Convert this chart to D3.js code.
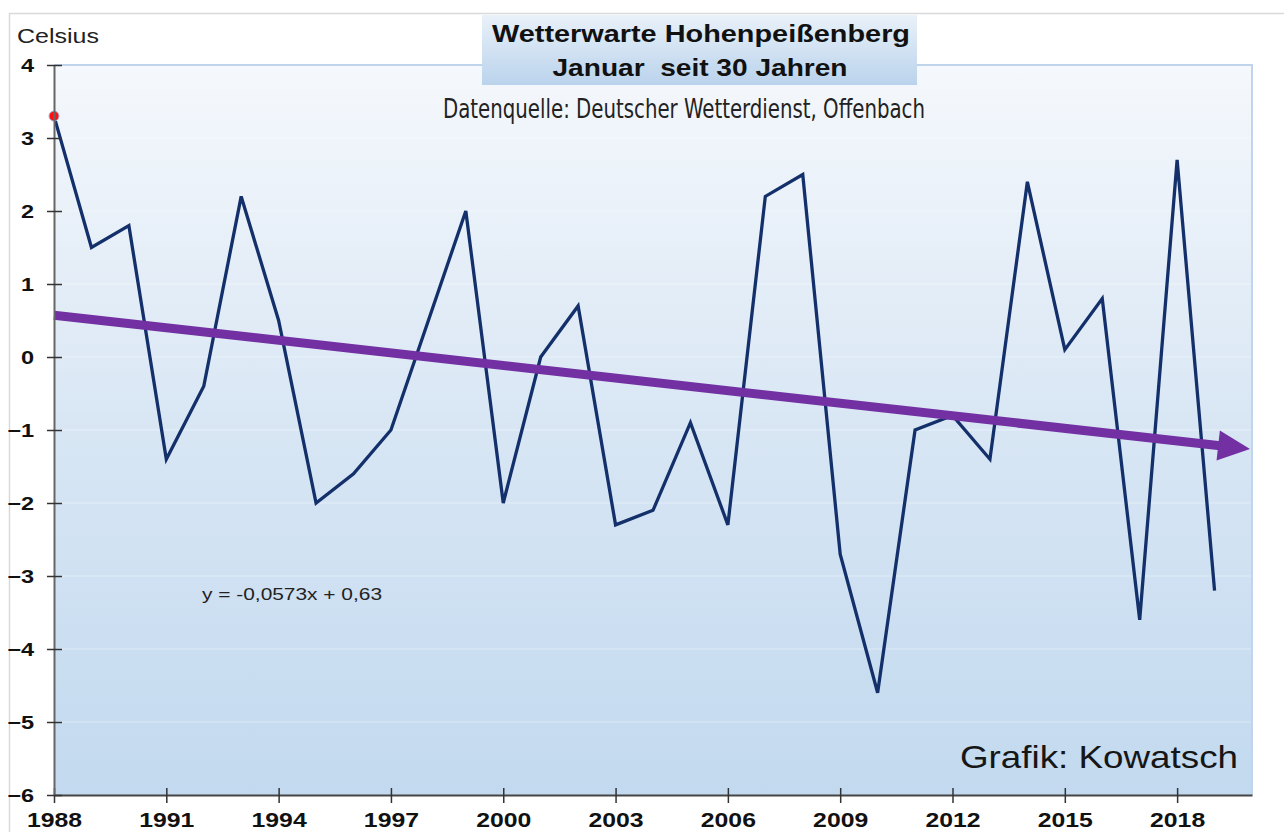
<!DOCTYPE html>
<html>
<head>
<meta charset="utf-8">
<script src="https://cdn.jsdelivr.net/npm/d3@7"></script>
<style>
body { margin: 0; background: #fff; }
svg { display: block; font-family: "Liberation Sans", Arial, sans-serif; }
</style>
</head>
<body>
<svg id="chart" width="1284" height="832"></svg>
<script>
// Daten: Januar-Mittel Hohenpeißenberg 1988-2019
const years = [1988, 1989, 1990, 1991, 1992, 1993, 1994, 1995, 1996, 1997, 1998,
               1999, 2000, 2001, 2002, 2003, 2004, 2005, 2006, 2007, 2008, 2009,
               2010, 2011, 2012, 2013, 2014, 2015, 2016, 2017, 2018, 2019];
const januarTemp = [3.3, 1.5, 1.8, -1.4, -0.4, 2.2, 0.5, -2.0, -1.6, -1.0, 0.5,
                    2.0, -2.0, 0.0, 0.7, -2.3, -2.1, -0.9, -2.3, 2.2, 2.5, -2.7,
                    -4.6, -1.0, -0.8, -1.4, 2.4, 0.1, 0.8, -3.6, 2.7, -3.2];
const yTicks = [-6, -5, -4, -3, -2, -1, 0, 1, 2, 3, 4];
const xTicks = [1988, 1991, 1994, 1997, 2000, 2003, 2006, 2009, 2012, 2015, 2018];

// Trendlinie (Excel): y = -0,0573x + 0,63, x = 1 für 1988
const trendSlope = -0.0573;
const trendIntercept = 0.63;
const trendYears = [1988, 2020];

// Texte
const yLabel = 'Celsius';
const titleLines = ['Wetterwarte Hohenpeißenberg', 'Januar  seit 30 Jahren'];
const sourceText = 'Datenquelle: Deutscher Wetterdienst, Offenbach';
const equationText = 'y = -0,0573x + 0,63';
const creditText = 'Grafik: Kowatsch';

// Bildschirm
const plot = {left: 54, right: 1252, top: 65, bottom: 795};
const stretch = 1.24;   // Schrift im Original ist breit gezogen

const x = d3.scaleLinear([1988, 2020], [plot.left, plot.right]);
const y = d3.scaleLinear([-6, 4], [plot.bottom, plot.top]);

const svg = d3.select('#chart');
const defs = svg.append('defs');

const bg = defs.append('linearGradient').attr('id', 'plotBg')
               .attr('x1', 0).attr('y1', 0).attr('x2', 0).attr('y2', 1);
bg.append('stop').attr('offset', '0%').attr('stop-color', '#f5f8fc');
bg.append('stop').attr('offset', '50%').attr('stop-color', '#d8e6f4');
bg.append('stop').attr('offset', '100%').attr('stop-color', '#c2d9ef');

const tb = defs.append('linearGradient').attr('id', 'titleBg')
               .attr('x1', 0).attr('y1', 0).attr('x2', 0).attr('y2', 1);
tb.append('stop').attr('offset', '0%').attr('stop-color', '#e9f1f9');
tb.append('stop').attr('offset', '100%').attr('stop-color', '#bad3ec');

// äußerer Rahmen
svg.append('rect')
   .attr('x', 9.5).attr('y', 13.5).attr('width', 1400).attr('height', 900)
   .attr('fill', 'none').attr('stroke', '#d9d9d9').attr('stroke-width', 1.5);

// Zeichenfläche
svg.append('rect')
   .attr('x', plot.left).attr('y', plot.top)
   .attr('width', plot.right - plot.left).attr('height', plot.bottom - plot.top)
   .attr('fill', 'url(#plotBg)');

// Gitterlinien
svg.append('g').selectAll('line')
   .data(yTicks.filter(d => d > -6 && d < 4))
   .join('line')
   .attr('x1', plot.left).attr('x2', plot.right)
   .attr('y1', d => y(d)).attr('y2', d => y(d))
   .attr('stroke', 'rgba(255,255,255,0.4)').attr('stroke-width', 1);

// Rand oben und rechts
svg.append('path')
   .attr('d', `M${plot.left},${y(4)}H${plot.right}V${plot.bottom}`)
   .attr('fill', 'none').attr('stroke', '#c0d5ec').attr('stroke-width', 2);

// Temperaturkurve
const line = d3.line().x((d, i) => x(years[i])).y(d => y(d));
svg.append('path')
   .datum(januarTemp)
   .attr('d', line)
   .attr('fill', 'none')
   .attr('stroke', '#13306b')
   .attr('stroke-width', 3.3)
   .attr('stroke-linejoin', 'miter');

// Trendpfeil
const trendAt = yr => trendSlope * (yr - 1987) + trendIntercept;
const p0 = [x(trendYears[0]), y(trendAt(trendYears[0]))];
const p1 = [x(trendYears[1]) - 2, y(trendAt(trendYears[1]))];
const len = Math.hypot(p1[0] - p0[0], p1[1] - p0[1]);
const ux = (p1[0] - p0[0]) / len, uy = (p1[1] - p0[1]) / len;
const headLen = 32, headHalf = 15;
const base = [p1[0] - ux * headLen, p1[1] - uy * headLen];

svg.append('line')
   .attr('x1', p0[0]).attr('y1', p0[1])
   .attr('x2', base[0] + ux * 2).attr('y2', base[1] + uy * 2)
   .attr('stroke', '#7230a2').attr('stroke-width', 9);
svg.append('path')
   .attr('d', `M${p1[0]},${p1[1]}` +
              `L${base[0] - uy * headHalf},${base[1] + ux * headHalf}` +
              `L${base[0] + uy * headHalf},${base[1] - ux * headHalf}Z`)
   .attr('fill', '#7230a2');

// erster Punkt rot markiert
svg.append('circle')
   .attr('cx', x(years[0])).attr('cy', y(januarTemp[0])).attr('r', 5)
   .attr('fill', '#ff1010').attr('stroke', '#9fb8e0').attr('stroke-width', 1);

// x-Achse
const xAxis = d3.axisBottom(x).tickValues(xTicks).tickFormat(d3.format('d'))
                .tickSizeInner(8).tickSizeOuter(0);
const gx = svg.append('g').attr('transform', `translate(0,${plot.bottom})`).call(xAxis);
gx.select('.domain').attr('stroke', '#454545').attr('stroke-width', 2);
gx.selectAll('.tick line').attr('y1', -7).attr('y2', 8)
  .attr('stroke', '#333').attr('stroke-width', 1.5);
gx.selectAll('.tick text')
  .attr('y', 32).attr('dy', null)
  .attr('transform', `scale(${stretch},1)`)
  .style('font-family', '"Liberation Sans", Arial, sans-serif')
  .style('font-size', '20px').style('font-weight', 'bold').attr('fill', '#111');

// y-Achse
const yAxis = d3.axisLeft(y).tickValues(yTicks).tickSizeInner(7).tickSizeOuter(0);
const gy = svg.append('g').attr('transform', `translate(${plot.left},0)`).call(yAxis);
gy.select('.domain').attr('stroke', '#666').attr('stroke-width', 2);
gy.selectAll('.tick line').attr('x1', 8).attr('x2', -7)
  .attr('stroke', '#333').attr('stroke-width', 1.5);
gy.selectAll('.tick text')
  .attr('x', -20 / stretch).attr('dy', '0.36em')
  .attr('transform', `scale(${stretch},1)`)
  .style('font-family', '"Liberation Sans", Arial, sans-serif')
  .style('font-size', '19px').style('font-weight', 'bold').attr('fill', '#111');

// Texte
function addText(txt, px, py, size, width, opts = {}) {
  return svg.append('text')
     .attr('x', px).attr('y', py)
     .attr('text-anchor', opts.anchor || 'start')
     .attr('textLength', width).attr('lengthAdjust', 'spacingAndGlyphs')
     .style('font-size', size + 'px')
     .style('font-weight', opts.bold ? 'bold' : 'normal')
     .style('font-family', opts.family || '"Liberation Sans", Arial, sans-serif')
     .style('white-space', 'pre')
     .attr('fill', opts.fill || '#1a1a1a')
     .text(txt);
}

addText(yLabel, 17, 43, 21, 82, {fill: '#222'});

// Titelkasten
svg.append('rect')
   .attr('x', 482).attr('y', 15).attr('width', 435).attr('height', 70)
   .attr('fill', 'url(#titleBg)');
addText(titleLines[0], 701, 42, 24, 418, {anchor: 'middle', bold: true, fill: '#111'});
addText(titleLines[1], 700, 76, 24, 295, {anchor: 'middle', bold: true, fill: '#111'});

addText(sourceText, 684, 118, 26, 482,
        {anchor: 'middle', fill: '#222',
         family: '"Liberation Sans Narrow", "DejaVu Sans Condensed", "Liberation Sans", sans-serif'});

addText(equationText, 202, 600, 16, 180, {fill: '#222'});
addText(creditText, 960, 768, 32, 278, {fill: '#161616'});
</script>
</body>
</html>
